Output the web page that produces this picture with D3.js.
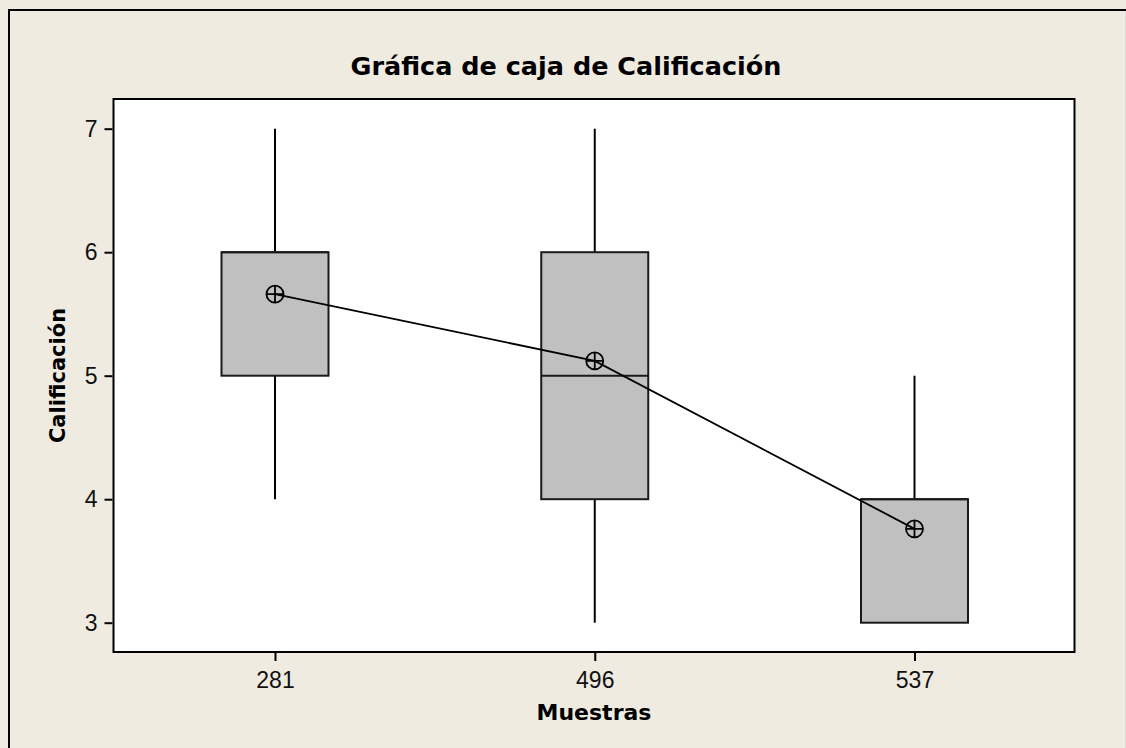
<!DOCTYPE html>
<html>
<head>
<meta charset="utf-8">
<script src="https://cdn.jsdelivr.net/npm/d3@7"></script>
<style>
    body { margin: 0; background: #efebe1; }
    svg { display: block; }
</style>
</head>
<body>
<div id="container"></div>
<script>

// data
var samples = ["281", "496", "537"];
var whiskerLow = [4, 3, 3];
var q1 = [5, 4, 3];
var median = [6, 5, 4];
var q3 = [6, 6, 4];
var whiskerHigh = [7, 7, 5];
var means = [5.66, 5.12, 3.76];
var yTicks = [3, 4, 5, 6, 7];

var title = "Gráfica de caja de Calificación";
var xTitle = "Muestras";
var yTitle = "Calificación";

var width = 1126, height = 748;
var plot = { left: 113.5, top: 99, right: 1074.5, bottom: 652 };

var svg = d3.select("#container").append("svg")
    .attr("width", width)
    .attr("height", height);

svg.append("rect")
    .attr("width", width).attr("height", height)
    .attr("fill", "#efebe1");

// outer frame (only top and left are inside the picture)
svg.append("path")
    .attr("d", "M9,748 V10 H1126")
    .attr("fill", "none")
    .attr("stroke", "#000")
    .attr("stroke-width", 2);
svg.append("line")
    .attr("x1", 1125.5).attr("x2", 1125.5)
    .attr("y1", 11).attr("y2", height)
    .attr("stroke", "#dcdcdc");

// plot area
svg.append("rect")
    .attr("x", plot.left).attr("y", plot.top)
    .attr("width", plot.right - plot.left)
    .attr("height", plot.bottom - plot.top)
    .attr("fill", "#fff")
    .attr("stroke", "#000")
    .attr("stroke-width", 2);

var x = d3.scalePoint().domain(samples).range([275, 914.5]);
var y = d3.scaleLinear().domain([3, 7]).range([622.7, 128.7]);
var boxWidth = 107;

// axes
var yAxis = svg.append("g")
    .attr("transform", "translate(" + (plot.left - 1) + ",0)")
    .call(d3.axisLeft(y).tickValues(yTicks).tickFormat(d3.format("d"))
        .tickSize(8).tickPadding(7).tickSizeOuter(0));
var xAxis = svg.append("g")
    .attr("transform", "translate(0," + (plot.bottom + 1) + ")")
    .call(d3.axisBottom(x).tickSize(8).tickPadding(11).tickSizeOuter(0));

for (const ax of [xAxis, yAxis])
{
    ax.select(".domain").remove();
    ax.selectAll("line").attr("stroke", "#000").attr("stroke-width", 2);
    ax.selectAll("text")
        .attr("fill", "#111")
        .style("font-family", "'Liberation Sans', Arial, sans-serif")
        .style("font-size", "23px");
}

// boxes
var idx = d3.range(samples.length);
var g = svg.append("g");

g.selectAll(".whisker-high").data(idx).join("line")
    .attr("x1", i => x(samples[i])).attr("x2", i => x(samples[i]))
    .attr("y1", i => y(q3[i])).attr("y2", i => y(whiskerHigh[i]))
    .attr("stroke", "#000").attr("stroke-width", 2);

g.selectAll(".whisker-low").data(idx).join("line")
    .attr("x1", i => x(samples[i])).attr("x2", i => x(samples[i]))
    .attr("y1", i => y(q1[i])).attr("y2", i => y(whiskerLow[i]))
    .attr("stroke", "#000").attr("stroke-width", 2);

g.selectAll(".box").data(idx).join("rect")
    .attr("x", i => x(samples[i]) - boxWidth / 2)
    .attr("y", i => y(q3[i]))
    .attr("width", boxWidth)
    .attr("height", i => y(q1[i]) - y(q3[i]))
    .attr("fill", "#c0c0c0")
    .attr("stroke", "#1a1a1a")
    .attr("stroke-width", 2);

g.selectAll(".median").data(idx).join("line")
    .attr("x1", i => x(samples[i]) - boxWidth / 2)
    .attr("x2", i => x(samples[i]) + boxWidth / 2)
    .attr("y1", i => y(median[i])).attr("y2", i => y(median[i]))
    .attr("stroke", "#1a1a1a").attr("stroke-width", 2);

// mean connect line
var line = d3.line().x(i => x(samples[i])).y(i => y(means[i]));
g.append("path")
    .attr("d", line(idx))
    .attr("fill", "none")
    .attr("stroke", "#000")
    .attr("stroke-width", 1.8);

// mean symbols
var r = 8.5;
var sym = g.selectAll(".mean").data(idx).join("g")
    .attr("transform", i => "translate(" + x(samples[i]) + "," + y(means[i]) + ")");
sym.append("circle").attr("r", r)
    .attr("fill", "none").attr("stroke", "#000").attr("stroke-width", 1.8);
sym.append("path")
    .attr("d", "M" + (-r) + ",0H" + r + "M0," + (-r) + "V" + r)
    .attr("stroke", "#000").attr("stroke-width", 1.8);

// titles
svg.append("text")
    .attr("x", 566).attr("y", 75)
    .attr("text-anchor", "middle")
    .style("font-family", "'DejaVu Sans', sans-serif")
    .style("font-weight", "bold")
    .style("font-size", "25.5px")
    .text(title);

svg.append("text")
    .attr("x", (plot.left + plot.right) / 2).attr("y", 720)
    .attr("text-anchor", "middle")
    .style("font-family", "'DejaVu Sans', sans-serif")
    .style("font-weight", "bold")
    .style("font-size", "22px")
    .text(xTitle);

svg.append("text")
    .attr("transform", "translate(65," + (plot.top + plot.bottom) / 2 + ") rotate(-90)")
    .attr("text-anchor", "middle")
    .style("font-family", "'DejaVu Sans', sans-serif")
    .style("font-weight", "bold")
    .style("font-size", "21px")
    .text(yTitle);

</script>
</body>
</html>
